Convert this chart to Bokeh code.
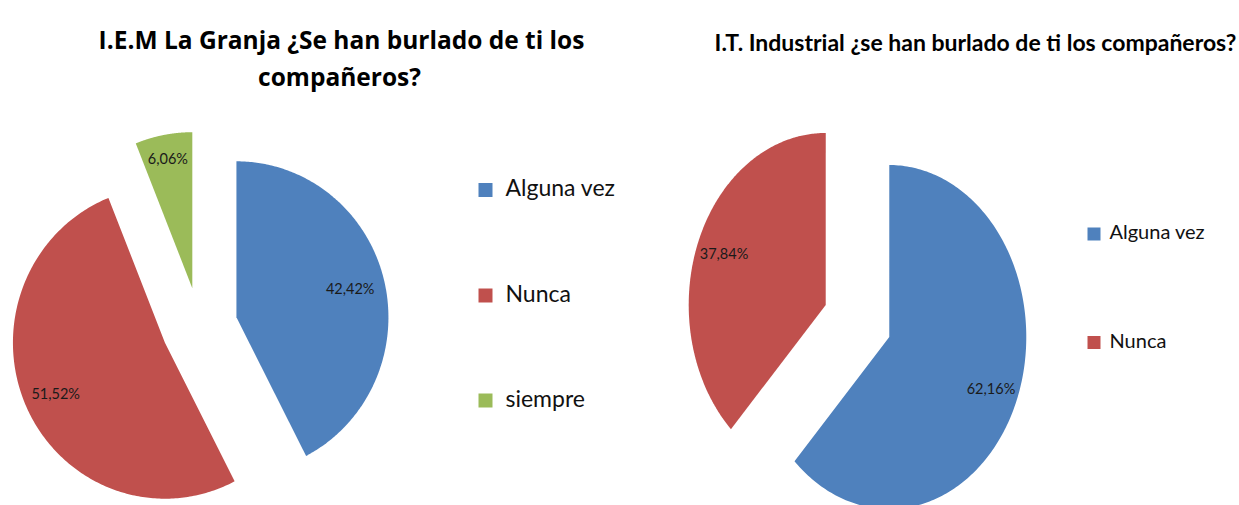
import numpy as np
from bokeh.plotting import figure
from bokeh.models import Range1d
from bokeh.embed import file_html
from bokeh.resources import INLINE
from bokeh.core.properties import value

# ---------------- data ----------------
left_title = ["I.E.M La Granja ¿Se han burlado de ti los", "compañeros?"]
left_categories = ["Alguna vez", "Nunca", "siempre"]
left_values = [42.42, 51.52, 6.06]

right_title = ["I.T. Industrial ¿se han burlado de ti los compañeros?"]
right_categories = ["Alguna vez", "Nunca"]
right_values = [62.16, 37.84]

# ---------------- style ----------------
colors = {"Alguna vez": "#4F81BD", "Nunca": "#C0504D", "siempre": "#9BBB59"}
FONT = "Lato"

W, H = 1239, 505
p = figure(width=W, height=H, x_range=Range1d(0, W), y_range=Range1d(H, 0),
           output_backend="svg", toolbar_location=None, min_border=0,
           x_axis_location=None, y_axis_location=None, outline_line_color=None)
p.xgrid.visible = False
p.ygrid.visible = False


def pie(values, categories, cx, cy, rx, ry, explode, label_frac):
    total = float(sum(values))
    start = 0.0
    xs, ys, fills, lx, ly, lt = [], [], [], [], [], []
    for v, c, f in zip(values, categories, label_frac):
        a0 = start / total * 2 * np.pi
        a1 = (start + v) / total * 2 * np.pi
        am = 0.5 * (a0 + a1)
        ox = cx + explode * rx * np.sin(am)
        oy = cy - explode * ry * np.cos(am)
        t = np.linspace(a0, a1, 240)
        xs.append([ox] + list(ox + rx * np.sin(t)))
        ys.append([oy] + list(oy - ry * np.cos(t)))
        fills.append(colors[c])
        lx.append(ox + f * rx * np.sin(am))
        ly.append(oy - f * ry * np.cos(am))
        lt.append(f"{v:.2f}%".replace(".", ","))
        start += v
    p.patches(xs, ys, fill_color=fills, line_color=None)
    p.text(lx, ly, text=lt, text_align="center", text_baseline="middle",
           text_font=value(FONT), text_font_size="14.5px", text_color="#1a1a1a")


def legend(categories, x, ys, size, gap, font_size):
    p.rect([x] * len(categories), ys, width=size, height=size,
           fill_color=[colors[c] for c in categories], line_color=None)
    p.text([x + size / 2 + gap] * len(categories), [y - 3 for y in ys], text=categories,
           text_align="left", text_baseline="middle",
           text_font=value(FONT), text_font_size=font_size, text_color="#111111")


# left chart
pie(left_values, left_categories, 199, 326, 152, 156, 0.25, [0.77, 0.79, 0.85])
legend(left_categories, 485, [189.5, 295, 400], 14, 13, "23px")
p.text([341, 339], [39, 75.5], text=left_title, text_align="center",
       text_baseline="alphabetic", text_font=value("Open Sans"), text_font_size="24.5px",
       text_font_style="bold", text_color="#000000")

# right chart
pie(right_values, right_categories, 857, 320.5, 137, 172, 0.25, [0.8, 0.8])
legend(right_categories, 1093.5, [233.5, 342], 13, 9, "20px")
p.text([975], [41.5], text=right_title, text_align="center",
       text_baseline="alphabetic", text_font=value(FONT), text_font_size="23px",
       text_font_style="bold", text_color="#000000")

open("out.html", "w").write(file_html(p, INLINE))
